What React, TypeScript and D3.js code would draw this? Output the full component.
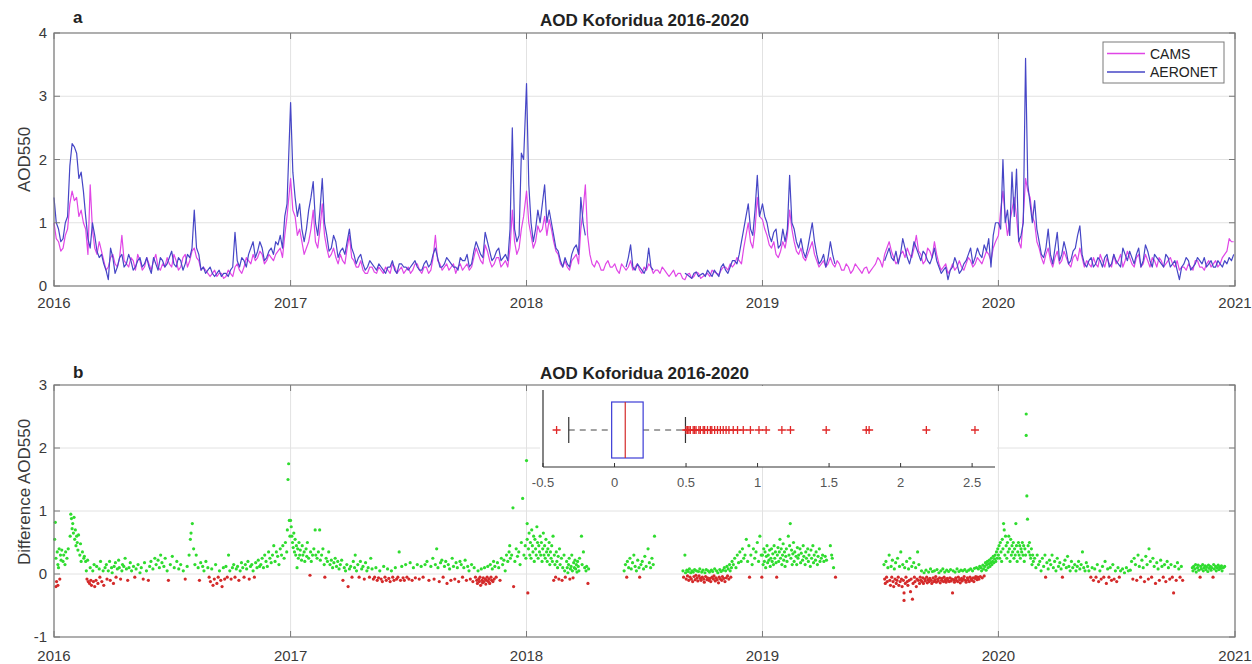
import React from "react";
import * as d3 from "d3";

// ---------- DATA ----------
const years = [2016, 2017, 2018, 2019, 2020];

// weekly samples (week w of each year)
const cams2016 = [1.0,0.7,0.6,0.9,1.5,1.4,1.2,0.9,1.6,0.6,0.7,0.4,0.3,0.5,0.3,0.8,0.35,0.45,0.25,0.4,0.3,0.35,0.4,0.3,0.35,0.45,0.3,0.4,0.3,0.5,0.4,0.6,0.4,0.3,0.2,0.2,0.15,0.2,0.15,0.2,0.3,0.25,0.3,0.4,0.5,0.45,0.5,0.4,0.45,0.5,0.6,0.8];
const cams2017 = [1.7,1.1,0.9,0.5,0.7,1.2,0.6,1.3,0.6,0.5,0.45,0.5,0.35,0.8,0.4,0.3,0.25,0.2,0.3,0.2,0.25,0.3,0.2,0.3,0.25,0.2,0.3,0.25,0.35,0.2,0.3,0.25,0.8,0.35,0.3,0.25,0.35,0.3,0.25,0.35,0.3,0.6,0.4,0.65,0.4,0.35,0.45,0.35,0.3,1.2,0.5,0.9];
const cams2018 = [1.5,0.8,0.7,0.85,1.1,1.05,0.7,0.5,0.3,0.3,0.4,0.5,0.9,1.6,0.5,0.3,0.35,0.25,0.4,0.3,0.25,0.35,0.25,0.4,0.3,0.25,0.3,0.35,0.2,0.25,0.3,0.2,0.2,0.15,0.2,0.1,0.2,0.15,0.2,0.15,0.2,0.25,0.2,0.25,0.3,0.35,0.35,0.4,0.6,1.0,0.6,1.4];
const cams2019 = [1.05,0.8,0.6,0.5,0.55,0.6,1.2,0.7,0.5,0.45,0.5,0.7,0.4,0.35,0.3,0.45,0.3,0.35,0.25,0.3,0.25,0.3,0.2,0.3,0.25,0.35,0.4,0.5,0.7,0.45,0.4,0.55,0.6,0.45,0.8,0.5,0.4,0.55,0.7,0.35,0.3,0.2,0.35,0.3,0.3,0.35,0.4,0.35,0.4,0.45,0.5,0.6];
const cams2020 = [0.8,1.5,0.8,1.2,1.1,0.6,1.7,1.4,1.0,0.6,0.35,0.6,0.3,0.55,0.4,0.45,0.3,0.5,0.6,0.3,0.35,0.45,0.3,0.4,0.45,0.3,0.35,0.5,0.4,0.45,0.3,0.5,0.35,0.4,0.45,0.3,0.4,0.35,0.45,0.3,0.25,0.3,0.35,0.25,0.4,0.3,0.35,0.3,0.4,0.35,0.5,0.75,0.7];

const aeronet2016 = [1.4,0.9,0.75,1.1,2.25,2.1,1.8,1.1,0.6,0.8,0.45,0.35,0.1,0.45,0.3,0.5,0.35,0.4,0.3,0.45,0.35,0.3,0.45,0.25,0.4,0.35,0.55,0.3,0.4,0.35,0.45,1.2,0.5,0.3,0.25,0.2,0.2,0.15,0.2,0.25,0.85,0.3,0.4,0.5,0.7,0.55,0.6,0.45,0.6,0.7,0.8,1.1];
const aeronet2017 = [2.9,1.4,1.3,0.7,1.2,1.65,0.8,1.7,0.8,0.6,0.7,0.55,0.5,0.9,0.5,0.45,0.35,0.3,0.35,0.25,0.3,0.2,0.3,0.25,0.35,0.3,0.25,0.35,0.3,0.25,0.4,0.35,0.6,0.3,0.35,0.4,0.3,0.25,0.4,0.5,0.35,0.7,0.5,0.85,0.55,0.45,0.6,0.45,0.4,2.5,0.7,2.1];
const aeronet2018 = [3.2,1.0,0.9,1.0,1.6,1.2,0.8,0.55,0.3,0.35,0.5,0.65,1.4,0.8,null,null,null,null,null,null,null,null,0.3,0.65,0.25,0.3,0.2,0.6,0.25,null,null,null,null,null,null,0.2,0.15,0.2,0.15,0.2,0.25,0.15,0.2,0.3,0.25,0.3,0.4,0.5,0.9,1.3,0.8,1.75];
const aeronet2019 = [1.3,1.0,0.7,0.9,0.65,0.7,1.75,0.9,0.6,0.55,0.6,1.0,0.5,0.4,0.3,0.7,0.35,null,null,null,null,null,null,null,null,null,null,0.4,0.6,0.4,0.35,0.75,0.45,0.5,0.6,0.4,0.5,0.35,0.6,0.3,0.25,0.1,0.3,0.35,0.25,0.4,0.6,0.45,0.5,0.65,0.75,0.8];
const aeronet2020 = [1.0,2.0,1.2,1.8,1.85,0.8,3.6,1.3,1.35,0.7,0.45,0.9,0.35,0.85,0.5,0.55,0.4,0.6,0.95,0.35,0.4,0.3,0.45,0.3,0.5,0.35,0.4,0.3,0.5,0.55,0.35,0.6,0.4,0.55,0.3,0.45,0.35,0.5,0.3,0.4,0.1,0.35,0.4,0.3,0.45,0.35,0.3,0.4,0.3,0.35,0.4,0.45,0.5];

// mid-week samples (week w + 0.5 of each year)
const camsMid2016 = [0.75,0.55,0.8,1.3,1.35,1.1,1.0,0.5,0.9,0.5,0.55,0.25,0.45,0.35,0.45,0.4,0.3,0.4,0.5,0.25,0.45,0.25,0.5,0.25,0.3,0.35,0.5,0.25,0.45,0.3,0.55,0.45,0.25,0.25,0.15,0.25,0.2,0.12,0.25,0.15,0.35,0.2,0.45,0.35,0.4,0.55,0.35,0.5,0.4,0.55,0.45,1.1];
const camsMid2017 = [1.2,0.8,0.7,0.6,0.9,0.7,0.9,0.8,0.45,0.6,0.35,0.4,0.6,0.45,0.3,0.4,0.2,0.3,0.22,0.3,0.2,0.25,0.35,0.2,0.3,0.25,0.2,0.35,0.25,0.3,0.2,0.45,0.4,0.25,0.35,0.3,0.2,0.35,0.3,0.25,0.45,0.5,0.35,0.55,0.3,0.45,0.3,0.4,0.6,0.7,0.6,1.1];
const camsMid2018 = [1.0,0.6,0.95,0.9,0.8,0.9,0.55,0.35,0.4,0.25,0.45,0.35,1.2,0.8,0.35,0.4,0.25,0.35,0.3,0.35,0.2,0.3,0.3,0.25,0.35,0.2,0.25,0.3,0.25,0.2,0.25,0.15,0.25,0.2,0.12,0.18,0.12,0.22,0.12,0.18,0.15,0.22,0.18,0.3,0.25,0.3,0.45,0.35,0.8,0.7,0.9,1.1];
const camsMid2019 = [0.9,0.65,0.7,0.45,0.7,0.8,0.9,0.55,0.6,0.4,0.6,0.5,0.3,0.4,0.35,0.35,0.4,0.25,0.35,0.2,0.35,0.25,0.28,0.2,0.3,0.45,0.3,0.6,0.55,0.35,0.5,0.45,0.5,0.6,0.55,0.35,0.6,0.45,0.5,0.25,0.35,0.25,0.25,0.4,0.25,0.45,0.3,0.45,0.35,0.55,0.4,0.7];
const camsMid2020 = [1.2,1.1,1.0,1.4,0.7,1.1,1.5,1.1,0.7,0.45,0.5,0.4,0.45,0.35,0.55,0.35,0.45,0.4,0.45,0.4,0.3,0.35,0.5,0.3,0.35,0.5,0.4,0.3,0.55,0.35,0.45,0.3,0.5,0.3,0.4,0.45,0.3,0.4,0.35,0.4,0.3,0.25,0.3,0.4,0.3,0.25,0.4,0.35,0.3,0.45,0.55,0.7];

const aeronetMid2016 = [1.0,0.7,1.0,1.9,2.2,1.7,1.5,0.75,1.0,0.55,0.5,0.25,0.6,0.2,0.45,0.3,0.5,0.25,0.4,0.3,0.45,0.2,0.35,0.45,0.3,0.45,0.35,0.45,0.25,0.5,0.6,0.6,0.25,0.2,0.3,0.15,0.25,0.2,0.15,0.3,0.4,0.45,0.3,0.6,0.45,0.7,0.4,0.55,0.5,0.65,0.6,1.3];
const aeronetMid2017 = [1.8,1.1,0.9,0.9,1.4,1.0,1.2,1.0,0.55,0.8,0.45,0.6,0.7,0.6,0.35,0.5,0.25,0.4,0.3,0.35,0.25,0.3,0.4,0.2,0.35,0.3,0.3,0.4,0.25,0.35,0.3,0.5,0.45,0.3,0.45,0.35,0.3,0.45,0.4,0.3,0.55,0.6,0.45,0.7,0.4,0.55,0.4,0.5,0.9,0.9,0.8,2.0];
const aeronetMid2018 = [1.6,0.7,1.2,1.3,1.0,1.0,0.6,0.4,0.45,0.3,0.6,0.5,1.0,null,null,null,null,null,null,null,null,null,0.45,0.3,0.35,0.25,0.3,0.3,null,null,null,null,null,null,null,0.18,0.12,0.22,0.18,0.15,0.2,0.25,0.15,0.35,0.2,0.4,0.35,0.7,1.1,0.9,1.2,1.1];
const aeronetMid2019 = [1.1,0.8,0.85,0.6,0.9,0.9,1.0,0.7,0.75,0.45,0.8,0.7,0.35,0.5,0.45,0.5,null,null,null,null,null,null,null,null,null,null,null,0.5,0.45,0.55,0.5,0.6,0.35,0.7,0.5,0.55,0.4,0.45,0.4,0.2,0.3,0.25,0.45,0.2,0.35,0.5,0.35,0.6,0.45,0.55,0.3,1.0];
const aeronetMid2020 = [0.9,1.0,0.8,1.1,0.7,1.0,1.6,1.0,0.9,0.5,0.6,0.5,0.6,0.4,0.7,0.35,0.55,0.8,0.5,0.3,0.45,0.35,0.4,0.45,0.3,0.5,0.35,0.6,0.4,0.45,0.5,0.3,0.65,0.4,0.5,0.4,0.3,0.45,0.35,0.25,0.3,0.45,0.25,0.35,0.4,0.45,0.35,0.3,0.4,0.3,0.35,0.4];

// Difference AOD550 points: [day of year, value]
const diff2016 = [[1,0.55],[2,0.82],[3,-0.2],[3,0.25],[4,-0.12],[5,0.35],[6,0.15],[6,-0.18],[7,0.1],[8,0.4],[9,-0.08],[10,0.3],[11,0.22],[12,0.38],[14,0.2],[15,0.3],[17,0.15],[18,0.35],[20,0.25],[22,0.4],[25,0.6],[26,0.95],[27,0.88],[28,0.72],[29,0.8],[30,0.65],[31,0.9],[32,0.55],[33,0.7],[34,0.45],[35,0.6],[36,0.5],[37,0.38],[38,0.62],[40,0.3],[41,0.48],[42,0.2],[44,0.35],[46,0.25],[47,0.28],[49,0.2],[50,0.05],[51,-0.08],[52,0.22],[53,-0.12],[55,-0.15],[56,0.1],[57,-0.1],[58,-0.18],[60,0.05],[61,-0.12],[62,0.15],[63,-0.2],[65,-0.1],[66,0.12],[68,-0.15],[70,0.08],[71,-0.05],[72,0.2],[74,-0.12],[76,0.05],[77,-0.18],[79,0.1],[81,0.15],[82,-0.08],[84,0.05],[86,0.2],[87,-0.1],[89,0.1],[90,0.02],[92,-0.15],[93,0.12],[95,0.18],[96,-0.05],[98,0.08],[100,0.22],[101,0.1],[103,-0.08],[105,0.05],[106,0.15],[108,0.12],[110,0.25],[112,0.08],[114,-0.1],[116,0.1],[118,0.18],[120,0.05],[123,0.12],[125,-0.05],[127,0.08],[130,0.15],[133,0.02],[135,0.1],[138,-0.08],[140,0.18],[143,0.05],[146,-0.1],[148,0.12],[150,0.2],[153,0.08],[156,0.25],[158,0.15],[161,0.22],[163,0.1],[165,0.3],[167,0.18],[170,0.12],[172,0.25],[175,0.05],[177,-0.1],[180,0.15],[183,0.28],[186,0.1],[190,0.2],[193,0.08],[196,0.15],[200,0.05],[203,-0.08],[206,0.12],[209,0.3],[211,0.55],[212,0.65],[214,0.8],[216,0.4],[218,0.15],[220,0.3],[223,0.1],[225,-0.1],[227,0.18],[230,0.12],[232,0.05],[235,0.2],[238,0.1],[240,-0.05],[242,-0.12],[244,0.08],[246,-0.18],[248,-0.08],[250,0.15],[252,-0.15],[254,-0.05],[256,0.05],[258,-0.1],[260,-0.2],[262,0.1],[264,-0.08],[266,0.12],[268,-0.05],[270,0.3],[272,0.05],[274,-0.08],[276,0.1],[278,0.15],[280,-0.05],[282,0.08],[284,0.12],[286,-0.1],[288,0.05],[290,0.18],[292,0.1],[294,-0.05],[296,0.15],[298,0.08],[300,0.2],[302,-0.08],[304,0.12],[306,0.15],[308,0.05],[310,-0.05],[312,0.18],[314,0.1],[316,0.22],[318,0.12],[320,0.15],[322,0.25],[324,0.1],[326,0.3],[328,0.2],[330,0.12],[332,0.35],[334,0.25],[336,0.18],[338,0.3],[340,0.45],[342,0.2],[344,0.35],[346,0.28],[348,0.15],[350,0.4],[352,0.3],[354,0.45],[356,0.25],[358,0.5],[360,0.35],[361,0.7],[362,1.5],[363,1.75],[364,0.85],[365,0.6]];
const diff2017 = [[0,0.85],[1,0.75],[2,0.6],[3,0.5],[4,0.42],[5,0.65],[6,0.35],[7,0.55],[8,0.3],[9,0.45],[10,0.1],[11,0.4],[12,0.25],[13,0.5],[14,0.3],[15,0.38],[17,0.22],[18,0.45],[19,0.3],[21,0.35],[22,0.2],[24,0.4],[25,0.28],[26,0.5],[28,0.25],[30,-0.02],[31,0.35],[32,0.2],[34,0.3],[36,0.4],[38,0.7],[39,0.3],[41,0.25],[43,0.35],[45,0.7],[46,0.22],[48,0.3],[50,0.4],[52,0.15],[53,-0.05],[55,0.25],[57,0.2],[59,0.35],[61,0.15],[63,0.22],[65,0.1],[67,0.18],[69,0.25],[71,0.12],[73,0.2],[75,0.08],[77,0.15],[79,0.22],[81,-0.1],[83,0.1],[85,0.05],[87,0.15],[89,-0.2],[91,0.08],[93,0.12],[95,-0.05],[97,0.2],[99,0.1],[100,0.3],[102,0.05],[104,0.15],[106,-0.05],[108,0.2],[110,0.08],[112,0.12],[114,-0.08],[116,0.18],[118,0.05],[120,0.1],[122,-0.05],[124,0.25],[126,0.08],[128,-0.08],[130,-0.05],[132,0.1],[134,-0.1],[136,-0.06],[138,0.05],[140,-0.08],[142,-0.12],[144,0.12],[146,-0.05],[148,-0.1],[150,0.08],[152,-0.07],[154,-0.12],[156,0.05],[158,-0.05],[160,-0.1],[162,0.1],[164,-0.08],[166,-0.05],[168,0.35],[170,-0.1],[172,0.12],[174,-0.06],[176,-0.1],[178,0.15],[180,-0.05],[183,-0.08],[185,0.18],[188,-0.1],[190,0.1],[193,-0.06],[196,0.15],[199,-0.08],[202,0.12],[205,-0.05],[208,0.15],[211,0.2],[214,-0.1],[217,0.12],[220,0.25],[222,-0.08],[224,0.15],[226,0.4],[228,0.1],[230,-0.12],[232,0.18],[234,0.22],[236,-0.05],[238,0.12],[240,0.2],[242,-0.15],[244,0.15],[246,0.08],[248,-0.1],[250,0.25],[252,0.12],[254,-0.08],[256,0.18],[258,0.1],[260,-0.12],[262,0.2],[264,0.15],[266,-0.05],[268,0.1],[270,0.22],[272,-0.1],[274,0.12],[276,0.05],[278,-0.08],[280,0.15],[282,-0.12],[284,0.1],[286,-0.05],[288,-0.1],[289,-0.15],[290,0.05],[291,-0.08],[292,-0.12],[293,-0.05],[294,-0.18],[295,0.08],[296,-0.1],[297,-0.14],[298,-0.06],[299,-0.12],[300,0.1],[301,-0.08],[302,-0.16],[303,-0.1],[304,-0.05],[305,0.12],[306,-0.12],[307,-0.08],[308,-0.15],[309,0.15],[310,-0.05],[311,-0.1],[312,0.08],[313,-0.12],[314,0.2],[315,-0.08],[316,0.12],[318,-0.05],[320,0.18],[322,0.1],[324,-0.1],[326,0.25],[328,0.15],[330,0.22],[332,0.05],[334,0.3],[336,0.2],[338,0.35],[339,0.45],[340,0.25],[342,0.3],[344,1.05],[345,-0.2],[347,0.2],[349,0.4],[351,0.28],[353,0.35],[355,0.15],[357,0.5],[359,1.2],[361,0.3],[363,0.45],[364,0.25]];
const diff2018 = [[0,1.8],[1,0.8],[1,0.55],[2,-0.3],[3,0.4],[4,0.65],[5,0.3],[6,0.5],[7,0.25],[8,0.7],[9,0.45],[10,0.35],[11,0.6],[12,0.2],[13,0.55],[14,0.4],[15,0.3],[16,0.75],[17,0.5],[18,0.25],[19,0.45],[20,0.35],[21,0.6],[22,0.3],[23,0.5],[24,0.2],[25,0.4],[26,0.65],[27,0.3],[28,0.45],[29,0.25],[30,0.55],[31,0.35],[32,0.2],[33,0.4],[34,0.3],[35,0.5],[36,0.15],[37,0.35],[38,0.25],[39,0.45],[40,0.2],[41,0.6],[42,-0.1],[43,0.3],[44,0.15],[45,-0.05],[46,0.35],[47,0.2],[48,0.1],[49,0.28],[50,-0.08],[51,0.4],[52,0.15],[54,0.25],[55,-0.1],[56,0.1],[58,0.3],[59,0.05],[60,-0.05],[62,0.2],[63,0.1],[64,0.02],[65,0.15],[66,0.25],[67,-0.08],[68,0.08],[69,0.12],[70,0.3],[71,0.05],[72,-0.06],[73,0.18],[74,0.1],[75,0.22],[76,0.08],[77,0.15],[78,0.03],[79,0.2],[80,0.12],[81,0.05],[82,0.25],[85,0.6],[86,0.15],[88,0.35],[90,0.1],[92,0.05],[93,0.12],[95,-0.15],[96,0.08],[151,0.05],[153,0.15],[155,-0.05],[156,0.2],[158,0.1],[160,0.25],[162,0.08],[164,0.18],[166,0.3],[168,0.12],[170,0.05],[172,0.22],[174,0.1],[175,-0.05],[177,0.15],[179,0.2],[181,0.08],[183,0.28],[185,0.12],[188,0.4],[190,0.18],[192,0.1],[194,0.25],[196,0.15],[198,0.6],[242,0.05],[243,-0.05],[245,0.3],[246,0.02],[247,-0.08],[248,0.06],[249,-0.03],[250,0.04],[251,-0.1],[252,0.08],[253,-0.05],[254,0.02],[255,-0.08],[256,0.05],[257,-0.12],[258,0.03],[259,-0.04],[260,0.07],[261,-0.09],[262,-0.02],[263,0.05],[264,-0.06],[265,-0.11],[266,0.04],[267,-0.03],[268,0.08],[269,-0.07],[270,-0.1],[271,0.03],[272,-0.05],[273,0.06],[274,-0.08],[275,-0.13],[276,0.02],[277,-0.04],[278,0.07],[279,-0.09],[280,-0.06],[281,0.05],[282,-0.1],[283,0.03],[284,-0.07],[285,-0.12],[286,0.06],[287,-0.05],[288,0.04],[289,-0.08],[290,-0.03],[291,0.08],[292,-0.11],[293,-0.06],[294,0.05],[295,-0.09],[296,0.02],[297,-0.14],[298,-0.05],[299,0.07],[300,-0.08],[301,0.04],[302,-0.1],[303,-0.04],[304,0.06],[305,-0.07],[306,0.1],[307,-0.12],[308,0.05],[309,-0.06],[310,0.12],[311,-0.03],[312,0.08],[313,-0.08],[314,0.15],[315,0.05],[316,-0.05],[317,0.1],[318,0.2],[320,0.15],[322,0.25],[324,0.1],[326,0.3],[328,0.18],[330,0.35],[332,0.2],[334,0.4],[336,0.25],[338,0.3],[340,0.55],[342,0.2],[344,0.45],[345,-0.05],[347,0.3],[349,0.15],[351,0.4],[353,0.25],[355,0.35],[357,0.5],[359,0.2],[361,0.6],[363,0.3],[364,-0.05]];
const diff2019 = [[0,0.3],[1,0.15],[2,0.4],[3,0.2],[4,0.35],[5,0.1],[6,0.28],[7,0.45],[8,0.18],[9,0.3],[10,0.22],[11,0.38],[12,0.12],[13,0.25],[14,0.4],[15,0.2],[16,0.32],[17,0.15],[18,0.45],[19,0.25],[20,0.35],[21,0.18],[22,-0.05],[23,0.3],[24,0.42],[25,0.2],[26,0.35],[27,0.55],[28,0.25],[29,0.4],[30,0.15],[31,0.3],[32,0.48],[33,0.22],[34,0.35],[35,0.12],[36,0.28],[37,0.4],[38,0.2],[40,0.6],[41,0.3],[42,0.45],[43,0.8],[44,0.25],[45,0.38],[46,0.15],[47,0.32],[48,0.5],[49,0.2],[50,0.35],[52,0.28],[53,0.15],[54,0.42],[55,0.25],[56,0.3],[58,0.4],[59,0.18],[60,0.33],[62,0.22],[63,0.45],[64,0.28],[66,0.15],[67,0.35],[68,0.25],[70,0.4],[71,0.2],[72,0.3],[74,0.12],[75,0.38],[76,0.25],[78,0.45],[79,0.18],[80,0.3],[82,0.22],[83,0.35],[85,0.15],[86,0.28],[88,0.4],[89,0.2],[91,0.25],[93,0.3],[95,0.2],[97,0.28],[99,0.22],[105,0.45],[107,0.3],[108,0.25],[110,0.1],[113,-0.05],[188,0.15],[189,-0.08],[190,-0.15],[191,0.2],[192,-0.05],[193,-0.12],[194,0.1],[196,0.3],[197,-0.1],[198,-0.18],[199,0.12],[200,-0.05],[201,0.22],[202,-0.12],[203,-0.2],[204,0.08],[205,-0.08],[206,0.18],[207,-0.15],[208,-0.1],[209,0.25],[210,-0.05],[211,-0.18],[212,0.12],[213,-0.12],[214,0.35],[215,-0.08],[216,-0.2],[217,0.15],[218,-0.1],[219,-0.3],[219,-0.42],[220,0.1],[221,-0.15],[222,-0.05],[223,0.2],[224,-0.12],[225,-0.18],[226,0.08],[227,-0.1],[228,0.25],[229,-0.28],[230,-0.08],[231,0.12],[232,-0.4],[233,-0.15],[234,0.18],[235,-0.05],[236,-0.12],[237,0.1],[238,-0.2],[239,-0.08],[240,0.35],[241,-0.1],[242,0.15],[243,-0.15],[244,-0.05],[245,-0.1],[246,0.05],[247,-0.12],[248,-0.06],[249,-0.15],[250,0.02],[251,-0.08],[252,-0.11],[253,0.06],[254,-0.05],[255,-0.14],[256,-0.09],[257,0.03],[258,-0.12],[259,-0.07],[260,0.08],[261,-0.1],[262,-0.15],[263,0.04],[264,-0.06],[265,-0.12],[266,0.05],[267,-0.09],[268,-0.04],[269,-0.13],[270,0.07],[271,-0.08],[272,-0.11],[273,0.02],[274,-0.06],[275,-0.14],[276,0.05],[277,-0.1],[278,-0.07],[279,0.08],[280,-0.12],[281,-0.05],[282,0.03],[283,-0.09],[284,-0.13],[285,0.06],[286,-0.07],[287,-0.1],[288,0.04],[289,-0.12],[290,-0.06],[291,0.07],[292,-0.11],[293,-0.08],[294,-0.3],[295,0.05],[296,-0.09],[297,-0.13],[298,0.03],[299,-0.06],[300,-0.1],[301,0.08],[302,-0.12],[303,-0.05],[304,0.04],[305,-0.09],[306,-0.14],[307,0.06],[308,-0.07],[309,-0.11],[310,0.05],[311,-0.08],[312,-0.04],[313,0.07],[314,-0.1],[315,-0.13],[316,0.04],[317,-0.06],[318,-0.09],[319,0.06],[320,-0.12],[321,-0.05],[322,0.08],[323,-0.08],[324,-0.1],[325,0.05],[326,-0.06],[327,-0.12],[328,0.09],[329,-0.07],[330,-0.04],[331,0.1],[332,-0.09],[333,-0.05],[334,0.08],[335,-0.08],[336,0.12],[337,-0.04],[338,0.1],[339,0.05],[340,-0.06],[341,0.14],[342,0.08],[343,-0.03],[344,0.12],[345,0.18],[346,0.06],[347,0.15],[348,0.2],[349,0.1],[350,0.16],[351,0.22],[352,0.12],[353,0.18],[354,0.25],[355,0.15],[356,0.2],[357,0.28],[358,0.18],[359,0.24],[360,0.3],[361,0.2],[362,0.35],[363,0.25],[364,0.4]];
const diff2020 = [[0,0.3],[1,0.45],[2,0.25],[3,0.5],[4,0.35],[5,0.2],[6,0.55],[7,0.4],[8,0.8],[9,0.7],[10,0.3],[11,0.6],[12,0.45],[13,0.25],[14,0.5],[15,0.35],[16,0.6],[17,0.4],[18,0.2],[19,0.55],[20,0.3],[21,0.45],[22,0.35],[23,0.5],[24,0.25],[25,0.4],[26,0.3],[27,0.8],[28,0.45],[29,0.2],[30,0.35],[31,0.5],[32,0.3],[33,0.45],[34,0.25],[35,0.4],[36,0.35],[37,0.5],[38,0.3],[39,0.45],[40,0.2],[41,0.4],[42,0.3],[43,2.2],[43,2.54],[44,1.24],[45,0.87],[46,0.45],[47,0.35],[48,0.5],[49,0.3],[50,0.25],[51,0.4],[52,0.15],[53,0.3],[54,0.2],[56,0.25],[58,0.1],[60,0.3],[62,0.15],[64,0.2],[66,0.05],[68,0.25],[70,0.12],[72,0.3],[73,-0.05],[75,0.18],[77,0.08],[79,0.22],[81,0.15],[83,0.3],[85,0.1],[87,0.2],[89,0.05],[91,0.25],[93,0.12],[95,0.18],[97,0.08],[99,-0.05],[101,0.15],[103,0.22],[105,0.1],[107,0.28],[109,0.12],[111,0.05],[113,0.2],[115,0.1],[118,0.15],[120,0.05],[122,0.12],[124,0.2],[126,0.08],[128,0.15],[130,0.35],[132,0.1],[134,0.05],[136,0.18],[138,0.12],[140,0.05],[143,-0.05],[145,0.1],[147,-0.1],[149,0.08],[151,-0.05],[153,0.15],[155,-0.12],[157,0.05],[159,-0.08],[161,0.12],[163,-0.05],[165,0.2],[167,-0.15],[169,0.08],[171,-0.05],[173,0.1],[175,-0.1],[177,0.15],[179,-0.08],[181,0.05],[183,-0.12],[185,0.1],[187,-0.05],[189,0.05],[192,0.08],[195,0.02],[198,0.1],[201,0.05],[204,0.06],[206,0.2],[208,-0.08],[210,0.25],[212,0.15],[214,-0.1],[216,0.3],[218,0.12],[220,-0.05],[222,0.22],[224,0.1],[226,-0.12],[228,0.28],[230,0.15],[232,-0.08],[233,0.4],[235,0.2],[237,-0.05],[239,0.25],[241,0.12],[243,-0.15],[245,0.18],[247,0.08],[249,-0.1],[251,0.22],[253,0.12],[255,-0.05],[257,0.15],[259,-0.12],[261,0.2],[263,0.1],[265,-0.08],[267,0.15],[269,-0.05],[271,-0.3],[273,0.12],[275,-0.1],[277,0.18],[279,0.08],[281,-0.05],[283,0.12],[285,-0.1],[300,0.1],[301,0.05],[302,0.12],[304,0.08],[305,0.15],[306,0.03],[308,0.1],[309,0.14],[310,0.06],[312,-0.05],[313,0.12],[314,0.08],[316,0.15],[317,0.05],[318,0.1],[320,0.13],[321,0.07],[322,0.11],[324,0.04],[325,0.14],[326,0.09],[328,0.12],[329,0.06],[330,0.1],[332,-0.05],[333,0.15],[334,0.08],[336,0.12],[337,0.05],[338,0.1],[340,0.14],[341,0.07],[342,0.11],[344,0.09],[345,0.13],[346,0.05],[348,0.1],[350,0.12]];

// Box plot of the differences: [lower whisker, q1, median, q3, upper whisker]
const boxStats = [-0.32, -0.02, 0.075, 0.2, 0.496];
const boxOutliers = [-0.405,0.5,0.51,0.52,0.53,0.55,0.56,0.57,0.59,0.6,0.62,0.63,0.65,0.67,0.68,0.7,0.72,0.74,0.76,0.78,0.8,0.83,0.86,0.9,0.95,1.01,1.06,1.17,1.23,1.48,1.76,1.78,2.18,2.52];

const yTicksTop = [0, 1, 2, 3, 4];
const yTicksBot = [-1, 0, 1, 2, 3];
const xTickYears = [2016, 2017, 2018, 2019, 2020, 2021];
const insetTicks = [-0.5, 0, 0.5, 1, 1.5, 2, 2.5];
const titleText = "AOD Koforidua 2016-2020";

// ---------- LAYOUT ----------
const W = 1252, H = 664;
const FONT = "'Liberation Sans', Arial, Helvetica, sans-serif";
const X0 = 54, X1 = 1235;
const TOP = { y0: 33, y1: 286 };
const BOT = { y0: 385, y1: 637 };
const INSET = { x0: 543, x1: 995, y0: 390, y1: 467 };
const CAMS_COLOR = "#e046e6";
const AER_COLOR = "#4646c6";
const GRID = "#e2e2e2";
const AXIS = "#7a7a7a";
const TXT = "#3a3a3a";

const camsByYear = [cams2016, cams2017, cams2018, cams2019, cams2020];
const camsMidByYear = [camsMid2016, camsMid2017, camsMid2018, camsMid2019, camsMid2020];
const aerByYear = [aeronet2016, aeronet2017, aeronet2018, aeronet2019, aeronet2020];
const aerMidByYear = [aeronetMid2016, aeronetMid2017, aeronetMid2018, aeronetMid2019, aeronetMid2020];
const diffByYear = [diff2016, diff2017, diff2018, diff2019, diff2020];

type Pt = { date: Date; v: number | null };
const toSeries = (weekly: (number | null)[][], mid: (number | null)[][]): Pt[] => {
  const a = weekly.flatMap((arr, yi) => arr.map((v, w) => ({ date: new Date(years[yi], 0, 1 + 7 * w), v })));
  const b = mid.flatMap((arr, yi) => arr.map((v, w) => ({ date: new Date(years[yi], 0, 4 + 7 * w, 12), v })));
  return a.concat(b).sort((p, q) => +p.date - +q.date);
};

const camsSeries = toSeries(camsByYear, camsMidByYear);
const aerSeries = toSeries(aerByYear, aerMidByYear);
const diffPoints = diffByYear.flatMap((arr, yi) =>
  arr.map(([d, v]) => ({ date: new Date(years[yi], 0, 1 + d), v }))
);

export default function App() {
  const x = d3.scaleTime().domain([new Date(2016, 0, 1), new Date(2021, 0, 1)]).range([X0, X1]);
  const yTop = d3.scaleLinear().domain([0, 4]).range([TOP.y1, TOP.y0]);
  const yBot = d3.scaleLinear().domain([-1, 3]).range([BOT.y1, BOT.y0]);
  const xIn = d3.scaleLinear().domain([-0.5, 2.66]).range([INSET.x0, INSET.x1]);

  const line = d3
    .line<Pt>()
    .defined((d) => d.v != null)
    .x((d) => x(d.date))
    .y((d) => yTop(d.v as number));

  const xTickDates = xTickYears.map((yr) => new Date(yr, 0, 1));

  const panelFrame = (y0: number, y1: number, yTicks: number[], yScale: d3.ScaleLinear<number, number>) => (
    <g>
      {yTicks.map((t) => (
        <line key={"gy" + t} x1={X0} x2={X1} y1={yScale(t)} y2={yScale(t)} stroke={GRID} strokeWidth={1} />
      ))}
      {xTickDates.map((d, i) => (
        <line key={"gx" + i} x1={x(d)} x2={x(d)} y1={y0} y2={y1} stroke={GRID} strokeWidth={1} />
      ))}
    </g>
  );

  const panelAxes = (y0: number, y1: number, yTicks: number[], yScale: d3.ScaleLinear<number, number>, labelY: number) => (
    <g>
      <rect x={X0} y={y0} width={X1 - X0} height={y1 - y0} fill="none" stroke={AXIS} strokeWidth={1.2} />
      {yTicks.map((t) => (
        <g key={"ty" + t}>
          <line x1={X0} x2={X0 + 6} y1={yScale(t)} y2={yScale(t)} stroke={AXIS} />
          <line x1={X1} x2={X1 - 6} y1={yScale(t)} y2={yScale(t)} stroke={AXIS} />
          <text x={X0 - 7} y={yScale(t) + 5} textAnchor="end" fontSize={15} fill={TXT} fontFamily={FONT}>
            {t}
          </text>
        </g>
      ))}
      {xTickDates.map((d, i) => (
        <g key={"tx" + i}>
          <line x1={x(d)} x2={x(d)} y1={y1} y2={y1 - 6} stroke={AXIS} />
          <line x1={x(d)} x2={x(d)} y1={y0} y2={y0 + 6} stroke={AXIS} />
          <text x={x(d)} y={labelY} textAnchor="middle" fontSize={15} fill={TXT} fontFamily={FONT}>
            {xTickYears[i]}
          </text>
        </g>
      ))}
    </g>
  );

  const [wLo, q1, med, q3, wHi] = boxStats;
  const boxTop = 402, boxBot = 458, boxMid = 430;

  return (
    <svg width={W} height={H} style={{ position: "absolute", left: 0, top: 0, background: "#fff" }}>
      <rect x={0} y={0} width={W} height={H} fill="#fff" />

      {/* ---------- Panel a ---------- */}
      {panelFrame(TOP.y0, TOP.y1, [1, 2, 3], yTop)}
      <path d={line(camsSeries) || ""} fill="none" stroke={CAMS_COLOR} strokeWidth={1.2} strokeLinejoin="round" />
      <path d={line(aerSeries) || ""} fill="none" stroke={AER_COLOR} strokeWidth={1.2} strokeLinejoin="round" />
      {panelAxes(TOP.y0, TOP.y1, yTicksTop, yTop, 308)}
      <text x={(X0 + X1) / 2} y={26} textAnchor="middle" fontSize={17} fontWeight="bold" fill="#222" fontFamily={FONT}>
        {titleText}
      </text>
      <text x={73} y={23} fontSize={17} fontWeight="bold" fill="#222" fontFamily={FONT}>a</text>
      <text transform={`translate(30,${(TOP.y0 + TOP.y1) / 2}) rotate(-90)`} textAnchor="middle" fontSize={17} fill={TXT} fontFamily={FONT}>
        AOD550
      </text>
      {/* legend */}
      <g>
        <rect x={1103} y={42} width={121} height={41} fill="#fff" stroke={AXIS} strokeWidth={1} />
        <line x1={1107} x2={1145} y1={53.5} y2={53.5} stroke={CAMS_COLOR} strokeWidth={1.6} />
        <line x1={1107} x2={1145} y1={72} y2={72} stroke={AER_COLOR} strokeWidth={1.6} />
        <text x={1150} y={58.5} fontSize={14} fill="#222" fontFamily={FONT}>CAMS</text>
        <text x={1150} y={77} fontSize={14} fill="#222" fontFamily={FONT}>AERONET</text>
      </g>

      {/* ---------- Panel b ---------- */}
      {panelFrame(BOT.y0, BOT.y1, [0, 1, 2], yBot)}
      {diffPoints.map((p, i) => (
        <circle key={i} cx={x(p.date)} cy={yBot(p.v)} r={1.6} fill={p.v >= 0 ? "#2fdc2f" : "#d42a2a"} />
      ))}
      {panelAxes(BOT.y0, BOT.y1, yTicksBot, yBot, 661)}
      <text x={(X0 + X1) / 2} y={379} textAnchor="middle" fontSize={17} fontWeight="bold" fill="#222" fontFamily={FONT}>
        {titleText}
      </text>
      <text x={73} y={378} fontSize={17} fontWeight="bold" fill="#222" fontFamily={FONT}>b</text>
      <text transform={`translate(30,492) rotate(-90)`} textAnchor="middle" fontSize={17} fill={TXT} fontFamily={FONT}>
        Difference AOD550
      </text>

      {/* ---------- Inset box plot ---------- */}
      <g>
        <rect x={INSET.x0 - 3} y={BOT.y0 + 1} width={INSET.x1 - INSET.x0 + 5} height={INSET.y1 - BOT.y0 - 1} fill="#fff" />
        <line x1={INSET.x0} x2={INSET.x0} y1={INSET.y0} y2={INSET.y1} stroke="#333" strokeWidth={1.2} />
        <line x1={INSET.x0} x2={INSET.x1} y1={INSET.y1} y2={INSET.y1} stroke="#333" strokeWidth={1.2} />
        {insetTicks.map((t) => (
          <g key={"it" + t}>
            <line x1={xIn(t)} x2={xIn(t)} y1={INSET.y1} y2={INSET.y1 - 4} stroke="#333" />
            <text x={xIn(t)} y={487} textAnchor="middle" fontSize={13} fill="#555" fontFamily={FONT}>
              {t}
            </text>
          </g>
        ))}
        {/* whiskers */}
        <line x1={xIn(wLo)} x2={xIn(q1)} y1={boxMid} y2={boxMid} stroke="#444" strokeDasharray="6,5" />
        <line x1={xIn(q3)} x2={xIn(wHi)} y1={boxMid} y2={boxMid} stroke="#444" strokeDasharray="6,5" />
        <line x1={xIn(wLo)} x2={xIn(wLo)} y1={417} y2={443} stroke="#333" strokeWidth={1.2} />
        <line x1={xIn(wHi)} x2={xIn(wHi)} y1={417} y2={443} stroke="#333" strokeWidth={1.2} />
        <rect x={xIn(q1)} y={boxTop} width={xIn(q3) - xIn(q1)} height={boxBot - boxTop} fill="none" stroke="#3c3cd6" strokeWidth={1.2} />
        <line x1={xIn(med)} x2={xIn(med)} y1={boxTop} y2={boxBot} stroke="#d42a2a" strokeWidth={1.2} />
        {boxOutliers.map((o, i) => (
          <path key={"o" + i} d={`M${xIn(o) - 4},${boxMid}h8M${xIn(o)},${boxMid - 4}v8`} stroke="#e02828" strokeWidth={1.3} />
        ))}
      </g>
    </svg>
  );
}
